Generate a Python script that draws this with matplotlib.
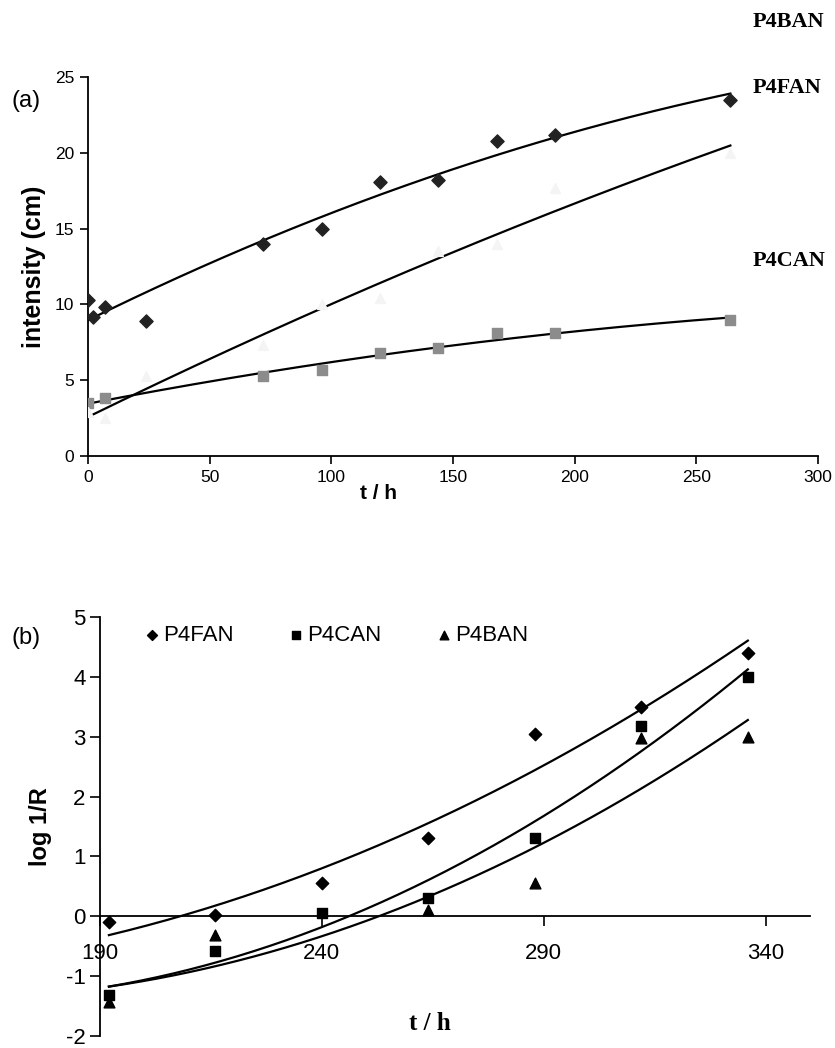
import numpy as np
import matplotlib.pyplot as plt

plt.rcParams['axes.unicode_minus'] = False

# panel (a) data: intensity (cm) vs time (h)
t_a = [0, 2, 7, 24, 72, 96, 120, 144, 168, 192, 264]
fan_a = [10.3, 9.2, 9.8, 8.9, 14.0, 15.0, 18.1, 18.2, 20.8, 21.2, 23.5]
t_can_a = [0, 7, 72, 96, 120, 144, 168, 192, 264]
can_a = [3.5, 3.8, 5.3, 5.7, 6.8, 7.1, 8.1, 8.1, 9.0]
t_ban_a = [0, 7, 24, 72, 96, 120, 144, 168, 192, 264]
ban_a = [2.9, 2.5, 5.3, 7.3, 10.0, 10.4, 13.5, 14.0, 17.7, 20.0]

# panel (b) data: log 1/R vs time (h)
t_b = [192, 216, 240, 264, 288, 312, 336]
fan_b = [-0.1, 0.02, 0.55, 1.3, 3.05, 3.5, 4.4]
can_b = [-1.32, -0.58, 0.05, 0.31, 1.3, 3.18, 4.0]
t_ban_b = [192, 216, 264, 288, 312, 336]
ban_b = [-1.44, -0.31, 0.1, 0.55, 2.98, 3.0]

sans = 'Liberation Sans'
serif = 'Liberation Serif'


def trend(ax, x, y, deg=2):
    c = np.polyfit(x, y, deg)
    xs = np.linspace(min(x), max(x), 200)
    ax.plot(xs, np.polyval(c, xs), color='black', lw=1.6, zorder=2)


fig = plt.figure(figsize=(8.35, 10.48), dpi=100)

# ---- panel (a)
ax1 = fig.add_axes([0.1054, 0.5649, 0.8742, 0.3616])
ax1.scatter(t_a, fan_a, marker='D', s=45, color='#222222', zorder=3)
ax1.scatter(t_can_a, can_a, marker='s', s=45, color='#8c8c8c', zorder=3)
ax1.scatter(t_ban_a, ban_a, marker='^', s=50, color='#f4f4f4', zorder=3)
trend(ax1, t_a, fan_a)
trend(ax1, t_ban_a, ban_a)
trend(ax1, t_can_a, can_a)
ax1.set_xlim(0, 300)
ax1.set_ylim(0, 25)
ax1.set_xticks([0, 50, 100, 150, 200, 250, 300])
ax1.set_yticks([0, 5, 10, 15, 20, 25])
for s in ['top', 'right']:
    ax1.spines[s].set_visible(False)
for s in ['left', 'bottom']:
    ax1.spines[s].set_linewidth(1.3)
ax1.tick_params(direction='out', length=6, width=1.2, labelsize=12.5, pad=4)
for lab in ax1.get_xticklabels() + ax1.get_yticklabels():
    lab.set_family(sans)
ax1.set_ylabel('intensity (cm)', family=sans, fontweight='bold', fontsize=18, labelpad=6)
fig.text(0.453, 0.529, 't / h', family=sans, fontweight='bold', fontsize=15,
         ha='center', va='center')
fig.text(0.014, 0.904, '(a)', family=sans, fontsize=17, va='center')
fig.text(0.901, 0.979, 'P4BAN', family=serif, fontweight='bold', fontsize=16, va='center')
fig.text(0.901, 0.916, 'P4FAN', family=serif, fontweight='bold', fontsize=16, va='center')
fig.text(0.901, 0.751, 'P4CAN', family=serif, fontweight='bold', fontsize=16, va='center')

# ---- panel (b)
ax2 = fig.add_axes([0.1198, 0.0115, 0.8502, 0.3998])
ax2.scatter(t_b, fan_b, marker='D', s=40, color='black', zorder=3, label='P4FAN')
ax2.scatter(t_b, can_b, marker='s', s=55, color='black', zorder=3, label='P4CAN')
ax2.scatter(t_ban_b, ban_b, marker='^', s=60, color='black', zorder=3, label='P4BAN')
trend(ax2, t_b, fan_b)
trend(ax2, t_b, can_b)
trend(ax2, t_ban_b, ban_b)
ax2.set_xlim(190, 350)
ax2.set_ylim(-2, 5)
ax2.set_xticks([190, 240, 290, 340])
ax2.set_yticks([-2, -1, 0, 1, 2, 3, 4, 5])
ax2.spines['bottom'].set_position(('data', 0))
for s in ['top', 'right']:
    ax2.spines[s].set_visible(False)
for s in ['left', 'bottom']:
    ax2.spines[s].set_linewidth(1.3)
ax2.tick_params(direction='out', length=7, width=1.2, labelsize=16)
ax2.tick_params(axis='x', pad=12)
for lab in ax2.get_xticklabels() + ax2.get_yticklabels():
    lab.set_family(sans)
ax2.set_ylabel('log 1/R', family=sans, fontweight='bold', fontsize=17, labelpad=10)
fig.text(0.515, 0.023, 't / h', family=serif, fontweight='bold', fontsize=18,
         ha='center', va='center')
fig.text(0.014, 0.391, '(b)', family=sans, fontsize=17, va='center')
ax2.legend(loc='upper left', bbox_to_anchor=(0.03, 1.028), ncol=3, frameon=False,
           prop={'family': sans, 'size': 16}, handletextpad=0.0, columnspacing=2.3,
           handlelength=1.0, markerscale=0.8)

fig.savefig('out.png', dpi=100)
